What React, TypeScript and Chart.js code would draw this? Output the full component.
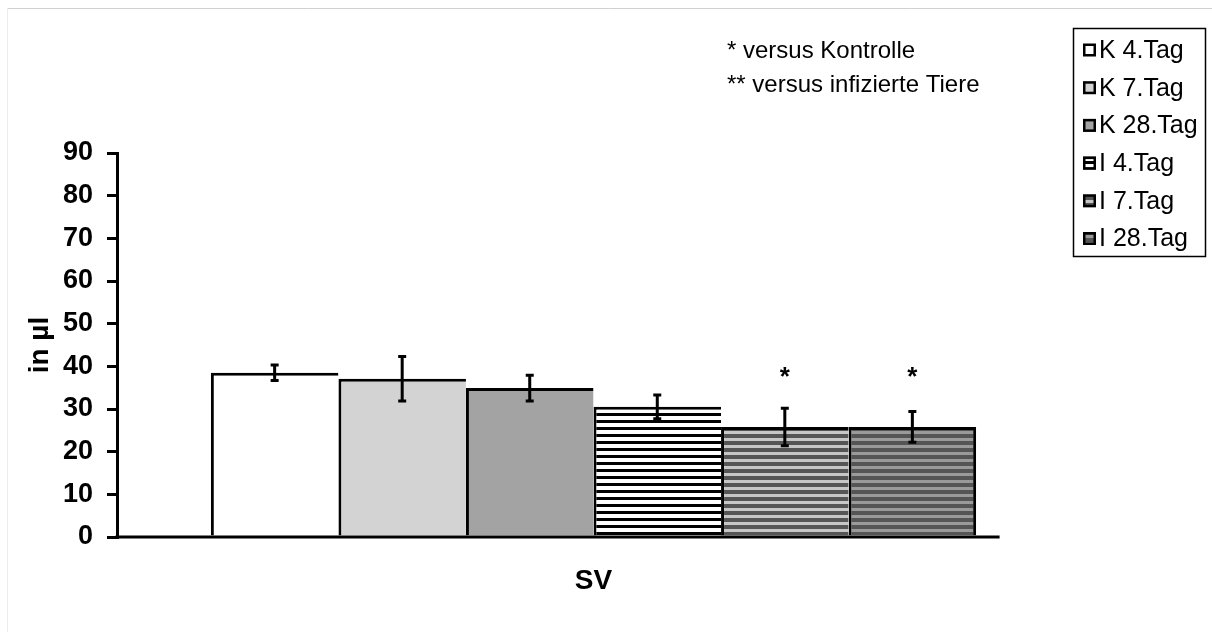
import React, { useEffect, useRef } from 'react';
import { Chart, registerables } from 'chart.js';

Chart.register(...registerables);

// Stroke volume per group (mean ± error), one category
const categories = ['SV'];
const seriesLabels = ['K 4.Tag', 'K 7.Tag', 'K 28.Tag', 'I 4.Tag', 'I 7.Tag', 'I 28.Tag'];
const seriesMeans = [38.5, 37.1, 34.9, 30.5, 25.8, 25.8];
const seriesErrors = [1.8, 5.2, 3.0, 2.8, 4.4, 3.6];
const significanceMarks = ['', '', '', '', '*', '*'];
const significanceLevel = 38;
const yMin = 0;
const yMax = 90;
const yStep = 10;
const yAxisTitle = 'in µl';
const footnotes = ['* versus Kontrolle', '** versus infizierte Tiere'];

const FONT = '"Liberation Sans", Arial, sans-serif';

function stripePattern(fg: string, bg: string, fgH: number, bgH: number): CanvasPattern | string {
  const c = document.createElement('canvas');
  c.width = 8;
  c.height = fgH + bgH;
  const x = c.getContext('2d');
  if (!x) return bg;
  x.fillStyle = bg;
  x.fillRect(0, 0, 8, c.height);
  x.fillStyle = fg;
  x.fillRect(0, 0, 8, fgH);
  return x.createPattern(c, 'repeat') || bg;
}

export default function App() {
  const ref = useRef<HTMLCanvasElement | null>(null);

  useEffect(() => {
    const canvas = ref.current;
    if (!canvas) return;

    const fills: (string | CanvasPattern)[] = [
      '#ffffff',
      '#d3d3d3',
      '#a3a3a3',
      stripePattern('#000000', '#ffffff', 3, 4),
      stripePattern('#555555', '#c6c6c6', 4, 3),
      stripePattern('#555555', '#9a9a9a', 4, 3),
    ];
    const last = seriesLabels.length - 1;

    const decor = {
      id: 'decor',
      afterDatasetsDraw(chart: any) {
        const ctx: CanvasRenderingContext2D = chart.ctx;
        const y = chart.scales.y;
        const area = chart.chartArea;
        ctx.save();

        // x axis line
        const firstBar = chart.getDatasetMeta(0).data[0] as any;
        const lastBar = chart.getDatasetMeta(last).data[0] as any;
        const lead = firstBar.x - firstBar.width / 2 - area.left;
        const axisEnd = lastBar.x + lastBar.width / 2 + lead / 4;
        ctx.strokeStyle = '#000';
        ctx.lineWidth = 3;
        ctx.beginPath();
        ctx.moveTo(area.left - 1.5, y.getPixelForValue(0));
        ctx.lineTo(axisEnd, y.getPixelForValue(0));
        ctx.stroke();

        // error bars and significance marks
        seriesLabels.forEach((_, i) => {
          const bar = chart.getDatasetMeta(i).data[0] as any;
          const top = y.getPixelForValue(seriesMeans[i] + seriesErrors[i]);
          const bot = y.getPixelForValue(seriesMeans[i] - seriesErrors[i]);
          ctx.lineWidth = 3;
          ctx.beginPath();
          ctx.moveTo(bar.x, top);
          ctx.lineTo(bar.x, bot);
          ctx.moveTo(bar.x - 4, top);
          ctx.lineTo(bar.x + 4, top);
          ctx.moveTo(bar.x - 4, bot);
          ctx.lineTo(bar.x + 4, bot);
          ctx.stroke();

          if (significanceMarks[i]) {
            ctx.fillStyle = '#000';
            ctx.font = `bold 26px ${FONT}`;
            ctx.textAlign = 'center';
            ctx.textBaseline = 'middle';
            ctx.fillText(significanceMarks[i], bar.x, y.getPixelForValue(significanceLevel) + 3);
          }
        });
        ctx.restore();
      },
      afterDraw(chart: any) {
        const ctx: CanvasRenderingContext2D = chart.ctx;
        ctx.save();

        // page frame
        ctx.lineWidth = 1;
        ctx.strokeStyle = '#d0d0d0';
        ctx.beginPath();
        ctx.moveTo(7, 8.5);
        ctx.lineTo(chart.width, 8.5);
        ctx.stroke();
        ctx.strokeStyle = '#ececec';
        ctx.beginPath();
        ctx.moveTo(7.5, 8);
        ctx.lineTo(7.5, chart.height);
        ctx.stroke();

        // footnotes
        ctx.fillStyle = '#000';
        ctx.font = `24px ${FONT}`;
        ctx.textAlign = 'left';
        ctx.textBaseline = 'alphabetic';
        footnotes.forEach((t, i) => ctx.fillText(t, 727, 58 + i * 34));

        // legend
        const bx = 1073.5, by = 28.5, bw = 132, bh = 228;
        ctx.fillStyle = '#fff';
        ctx.fillRect(bx, by, bw, bh);
        ctx.strokeStyle = '#000';
        ctx.lineWidth = 1.5;
        ctx.strokeRect(bx, by, bw, bh);
        ctx.font = `25px ${FONT}`;
        ctx.textBaseline = 'middle';
        seriesLabels.forEach((label, i) => {
          const cy = 50 + i * 37.7;
          ctx.fillStyle = fills[i] as any;
          ctx.fillRect(1083, cy - 6.5, 13, 13);
          ctx.strokeStyle = '#000';
          ctx.lineWidth = 2.5;
          ctx.strokeRect(1084.25, cy - 5.25, 10.5, 10.5);
          ctx.fillStyle = '#000';
          ctx.fillText(label, 1099, cy + 1);
        });
        ctx.restore();
      },
    };

    const chart = new Chart(canvas, {
      type: 'bar',
      data: {
        labels: categories,
        datasets: seriesLabels.map((label, i) => ({
          label,
          data: [seriesMeans[i]],
          backgroundColor: fills[i] as any,
          borderColor: '#000',
          borderWidth: { top: 3, left: 3, right: i === last ? 3 : 0, bottom: 0 },
          borderSkipped: 'start',
        })),
      },
      options: {
        responsive: false,
        animation: false,
        devicePixelRatio: 1,
        layout: { padding: { top: 153, right: 142, bottom: 0, left: 0 } },
        datasets: { bar: { categoryPercentage: 0.803, barPercentage: 1 } },
        plugins: { legend: { display: false }, tooltip: { enabled: false } },
        scales: {
          x: {
            grid: { display: false, drawTicks: false },
            border: { display: false },
            ticks: { color: '#000', font: { family: FONT, size: 28, weight: 'bold' }, padding: 27 },
            afterFit(s: any) { s.height = 95; },
          },
          y: {
            min: yMin,
            max: yMax,
            ticks: { stepSize: yStep, color: '#000', font: { family: FONT, size: 27, weight: 'bold' }, padding: 14 },
            grid: { drawOnChartArea: false, drawTicks: true, tickLength: 10, color: '#000', lineWidth: 3 },
            border: { color: '#000', width: 3 },
            title: {
              display: true,
              text: yAxisTitle,
              color: '#000',
              font: { family: FONT, size: 28, weight: 'bold' },
              padding: { top: 23, bottom: 0 },
            },
            afterFit(s: any) { s.width = 117; },
          },
        },
      },
      plugins: [decor],
    });

    return () => chart.destroy();
  }, []);

  return (
    <div style={{ position: 'absolute', left: 0, top: 0, width: 1212, height: 632, background: '#fff' }}>
      <canvas ref={ref} width={1212} height={632} />
    </div>
  );
}
